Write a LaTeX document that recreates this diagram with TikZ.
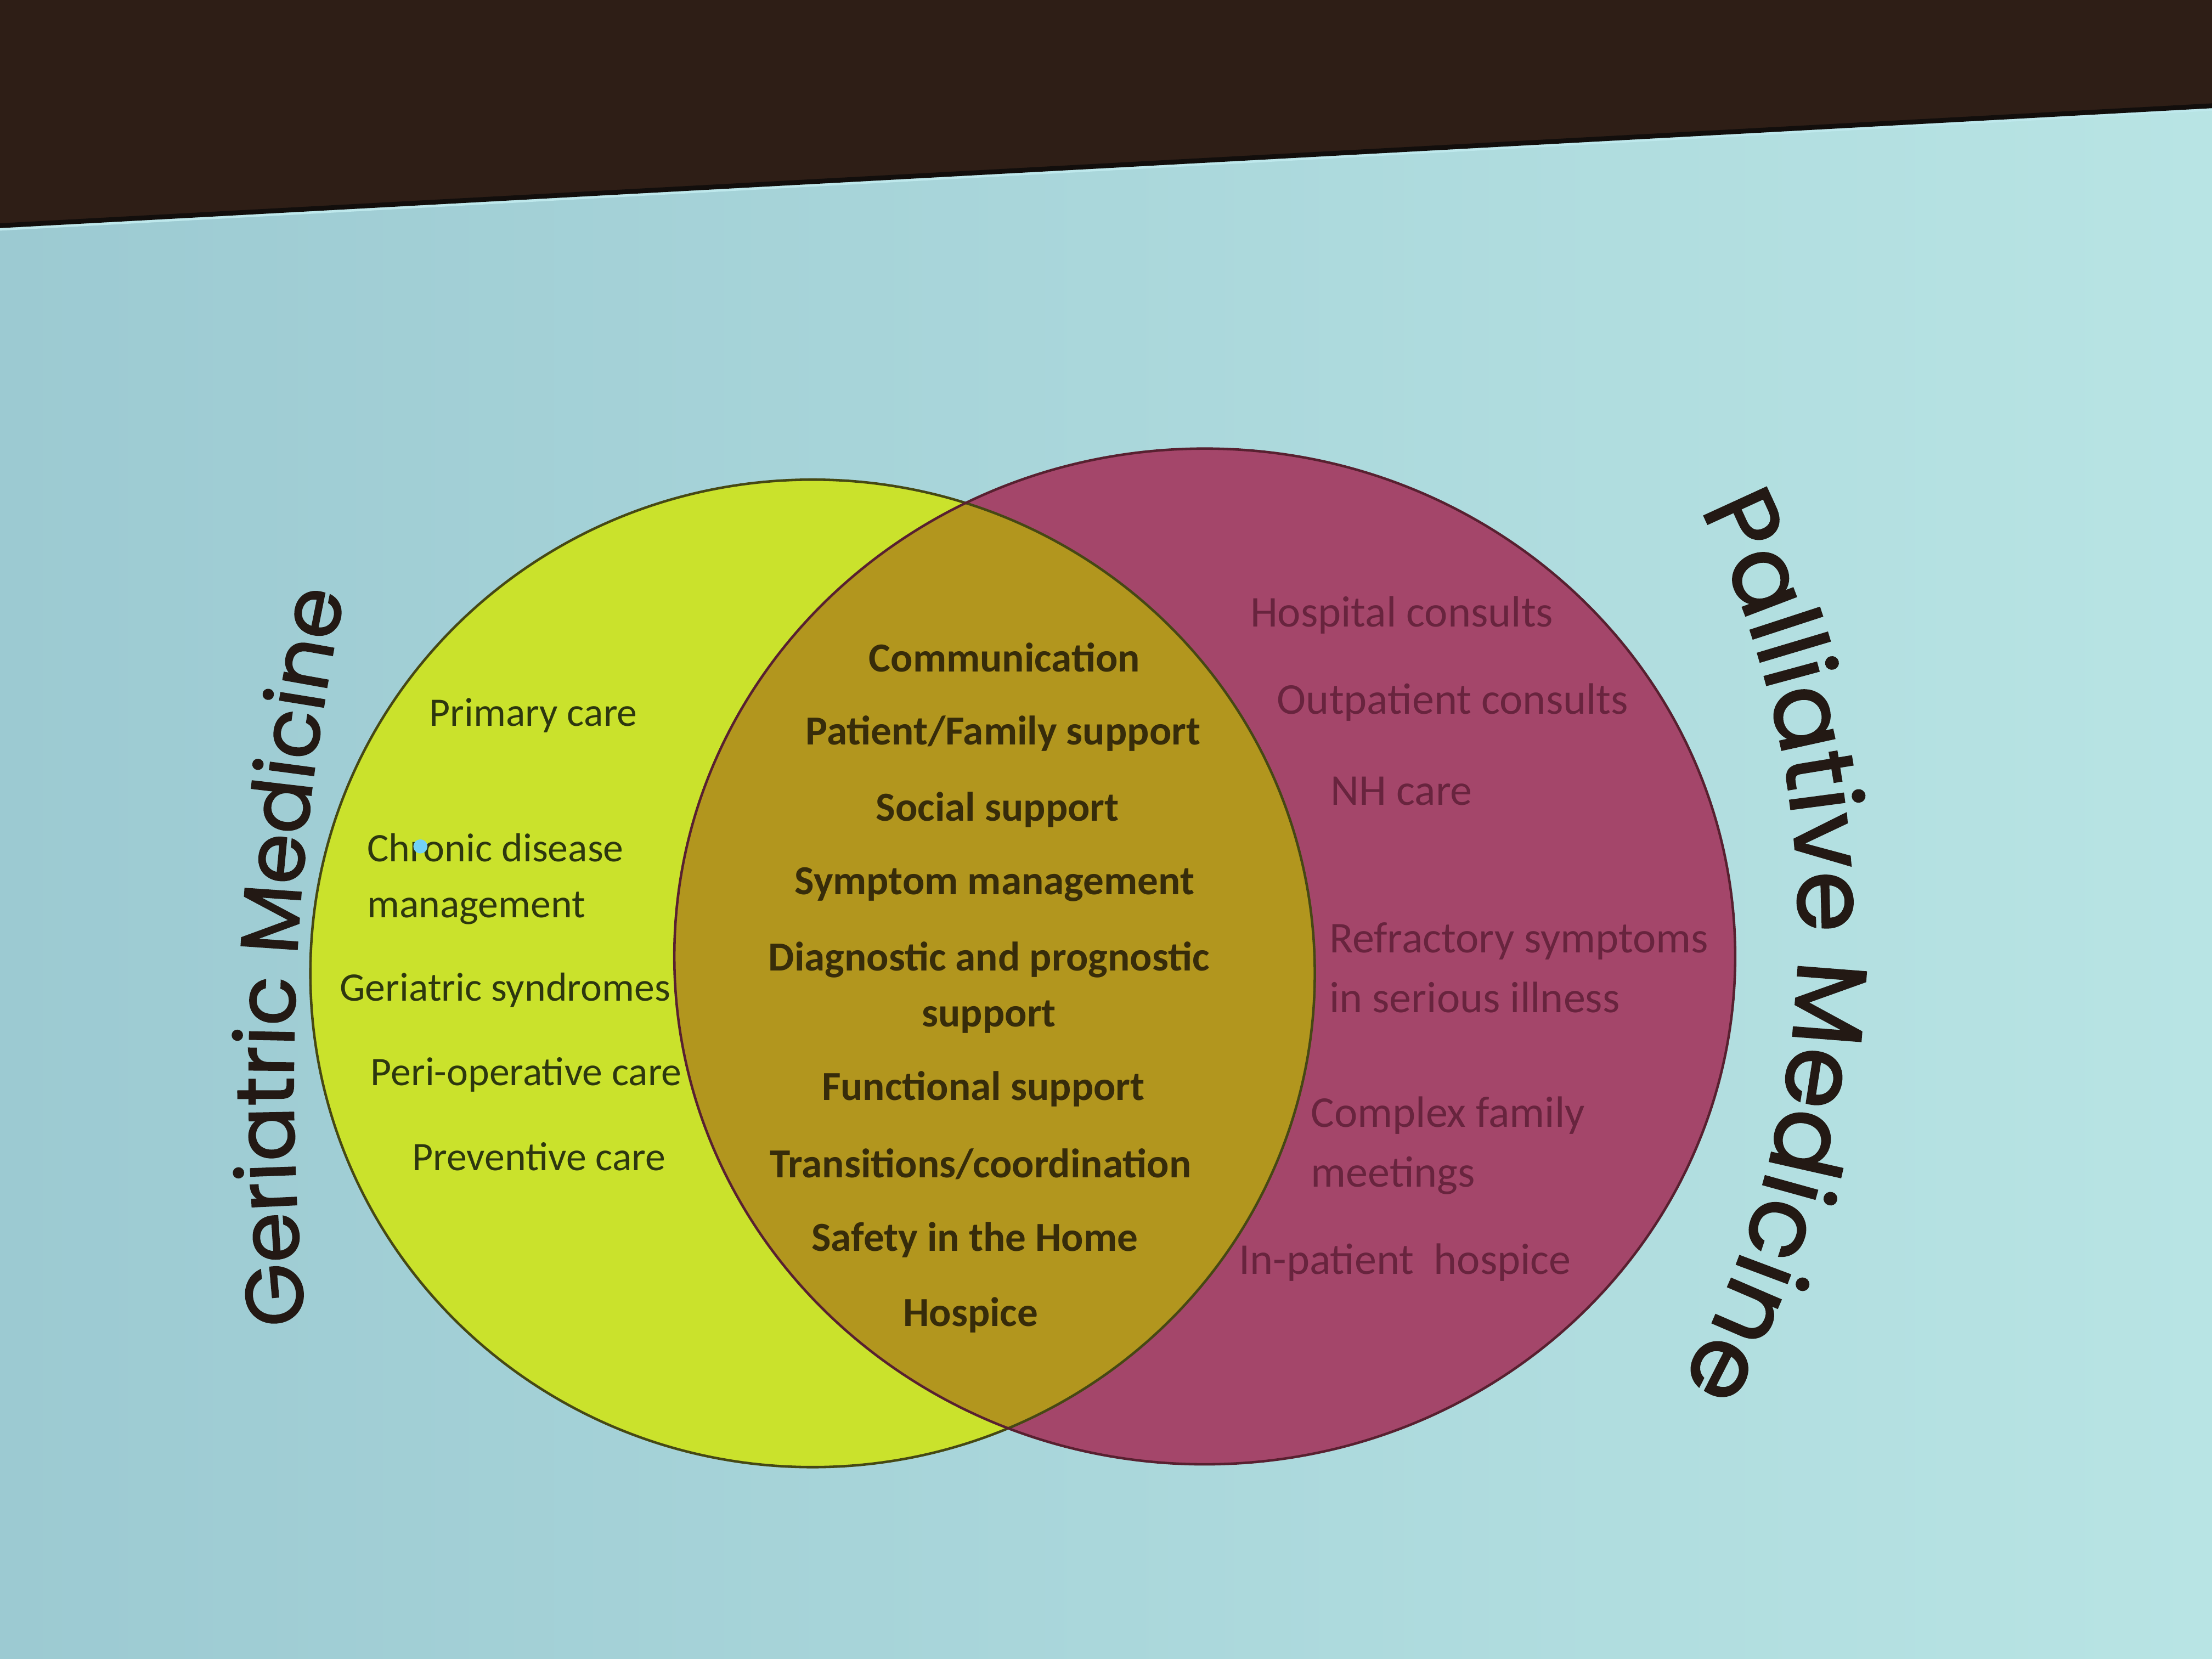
\documentclass[tikz,border=0pt]{standalone}
\usepackage{fontspec}
\setmainfont{Carlito}
\newfontfamily\titlefont{Poppins}[FakeBold=1.6]
\usetikzlibrary{decorations.text}

\definecolor{bgleft}{RGB}{156,202,210}
\definecolor{bgright}{RGB}{184,228,228}
\definecolor{bandbrown}{RGB}{46,30,22}
\definecolor{bandedge}{RGB}{18,14,12}
\definecolor{bandglow}{RGB}{190,232,236}
\definecolor{limefill}{RGB}{202,226,44}
\definecolor{olivefill}{RGB}{178,150,30}
\definecolor{magentafill}{RGB}{164,70,106}
\definecolor{limeedge}{RGB}{70,72,20}
\definecolor{magentaedge}{RGB}{88,32,48}
\definecolor{limeink}{RGB}{45,55,15}
\definecolor{oliveink}{RGB}{55,44,10}
\definecolor{magentaink}{RGB}{104,36,62}
\definecolor{titleink}{RGB}{35,25,20}

\begin{document}
\begin{tikzpicture}[x=0.0257143cm, y=0.0257143cm,
  lefttext/.style={font=\fontsize{21}{29}\selectfont, text=limeink, inner sep=0pt, align=center},
  midtext/.style={font=\fontsize{21.4}{29}\selectfont\bfseries, text=oliveink, inner sep=0pt, align=center},
  righttext/.style={font=\fontsize{22.8}{31}\selectfont, text=magentaink, inner sep=0pt, align=left, anchor=west},
  ring/.style={line width=1.3pt}]
\useasboundingbox (0,0) rectangle (1568,1176);

% screen background and dark strip above it
\shade[left color=bgleft, right color=bgright] (0,0) rectangle (1568,1176);
\fill[bandbrown] (0,1176) -- (1568,1176) -- (1568,1101) -- (0,1016) -- cycle;
\draw[bandglow, line width=1.5pt] (0,1013.5) -- (1568,1098.5);
\draw[bandedge, line width=2.5pt] (0,1016) -- (1568,1101);

% the two sets
\coordinate (geri) at (576,486);
\coordinate (pall) at (854,498);
\fill[limefill] (geri) ellipse [x radius=356, y radius=350];
\fill[magentafill] (pall) ellipse [x radius=376, y radius=360];
\begin{scope}
  \clip (geri) ellipse [x radius=356, y radius=350];
  \fill[olivefill] (pall) ellipse [x radius=376, y radius=360];
\end{scope}
\draw[ring, limeedge] (geri) ellipse [x radius=356, y radius=350];
\draw[ring, magentaedge] (pall) ellipse [x radius=376, y radius=360];

% curved set titles
\path[decorate, decoration={text along path, text align=center,
  text={|\titlefont\fontsize{42}{50}\selectfont\color{titleink}|Geriatric Medicine}}]
  (1890,408) ++(186:1682) arc[start angle=186, end angle=167.9, radius=1682];
\path[decorate, decoration={text along path, text align=center,
  text={|\titlefont\fontsize{51}{60}\selectfont\color{titleink}|Palliative Medicine}}]
  (605.5,518.2) ++(28.5:669.4) arc[start angle=28.5, end angle=-31, radius=669.4];

% geriatric medicine only
\node[lefttext] (primary) at (378,669) {Primary care};
\node[lefttext, align=left, anchor=west] (chronic) at (260,553) {Chronic disease\\management};
\node[lefttext] (syndromes) at (358,474) {Geriatric syndromes};
\node[lefttext] (periop) at (373,414) {Peri-operative care};
\node[lefttext] (prevent) at (382,356) {Preventive care};
\fill[cyan!55!white] (298,576) circle (5);

% shared by both
\node[midtext] (comm) at (712,710) {Communication};
\node[midtext] (family) at (711,656) {Patient/Family support};
\node[midtext] (social) at (707,602) {Social support};
\node[midtext] (symptom) at (705,549) {Symptom management};
\node[midtext] (diag) at (701,476) {Diagnostic and prognostic\\support};
\node[midtext] (functional) at (697,404) {Functional support};
\node[midtext] (transit) at (695,351) {Transitions/coordination};
\node[midtext] (safety) at (691,297) {Safety in the Home};
\node[midtext] (hospice) at (688,244) {Hospice};

% palliative medicine only
\node[righttext] (hospcons) at (886,740) {Hospital consults};
\node[righttext] (outcons) at (905,678) {Outpatient consults};
\node[righttext] (nh) at (943,615) {NH care};
\node[righttext] (refract) at (942,490) {Refractory symptoms\\in serious illness};
\node[righttext] (complex) at (929,364) {Complex family\\meetings};
\node[righttext] (inpat) at (878,281) {In-patient\ \ hospice};
\end{tikzpicture}
\end{document}
